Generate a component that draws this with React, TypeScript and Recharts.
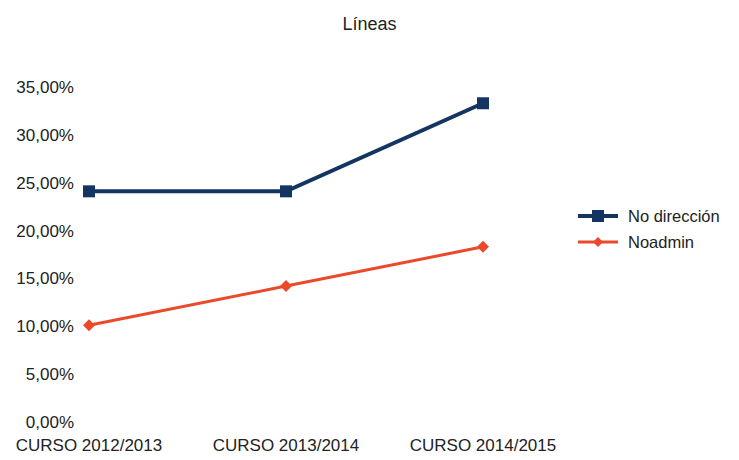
import React from 'react';
import { LineChart, Line, XAxis, YAxis, Legend } from 'recharts';

const CURSOS = ['CURSO 2012/2013', 'CURSO 2013/2014', 'CURSO 2014/2015'];
const NO_DIRECCION = [24.1, 24.1, 33.3];
const NOADMIN = [10.1, 14.2, 18.3];
const Y_TICKS = [0, 5, 10, 15, 20, 25, 30, 35];

const BLUE = '#143462';
const RED = '#ea4a2a';
const FONT = '"Liberation Sans", Arial, sans-serif';

const data = CURSOS.map((curso, i) => ({
  curso,
  noDireccion: NO_DIRECCION[i],
  noadmin: NOADMIN[i],
}));

const fmt = (v: number) => v.toFixed(2).replace('.', ',') + '%';

const SquareDot = (props: any) => {
  const { cx, cy, index } = props;
  if (cx == null || cy == null) return null;
  return <rect key={`sq-${index}`} x={cx - 6} y={cy - 6} width={12} height={12} fill={BLUE} />;
};

const DiamondDot = (props: any) => {
  const { cx, cy, index } = props;
  if (cx == null || cy == null) return null;
  return (
    <polygon
      key={`dm-${index}`}
      points={`${cx},${cy - 6} ${cx + 6},${cy} ${cx},${cy + 6} ${cx - 6},${cy}`}
      fill={RED}
    />
  );
};

const LegendContent = () => {
  const items = [
    { name: 'No dirección', color: BLUE, shape: 'square', w: 4 },
    { name: 'Noadmin', color: RED, shape: 'diamond', w: 3 },
  ];
  return (
    <div style={{ fontFamily: FONT, fontSize: 16.5, color: '#222' }}>
      {items.map((it) => (
        <div key={it.name} style={{ display: 'flex', alignItems: 'center', height: 26 }}>
          <svg width={44} height={14} style={{ marginRight: 6 }}>
            <line x1={0} y1={7} x2={40} y2={7} stroke={it.color} strokeWidth={it.w} />
            {it.shape === 'square' ? (
              <rect x={14} y={1} width={12} height={12} fill={it.color} />
            ) : (
              <polygon points="20,2 25,7 20,12 15,7" fill={it.color} />
            )}
          </svg>
          <span>{it.name}</span>
        </div>
      ))}
    </div>
  );
};

export default function App() {
  return (
    <div
      style={{
        position: 'absolute',
        left: 0,
        top: 0,
        width: 739,
        height: 460,
        background: '#fff',
        fontFamily: FONT,
      }}
    >
      <div
        style={{
          position: 'absolute',
          top: 14,
          left: 0,
          width: 739,
          textAlign: 'center',
          fontSize: 18,
          color: '#222',
        }}
      >
        Líneas
      </div>
      <LineChart
        width={739}
        height={460}
        data={data}
        margin={{ top: 87, right: 180, bottom: 8, left: 0 }}
      >
        <XAxis
          dataKey="curso"
          axisLine={false}
          tickLine={false}
          tickSize={0}
          tickMargin={17}
          height={30}
          padding={{ left: 11, right: 76 }}
          interval={0}
          tick={{ fontSize: 17, fill: '#222', fontFamily: FONT }}
        />
        <YAxis
          domain={[0, 35]}
          ticks={Y_TICKS}
          axisLine={false}
          tickLine={false}
          tickSize={0}
          tickMargin={4}
          width={78}
          tickFormatter={fmt}
          tick={{ fontSize: 17, fill: '#222', fontFamily: FONT }}
        />
        <Legend
          layout="vertical"
          align="center"
          verticalAlign="middle"
          content={<LegendContent />}
          wrapperStyle={{ left: 578, top: 203, width: 160 }}
        />
        <Line
          dataKey="noDireccion"
          name="No dirección"
          stroke={BLUE}
          strokeWidth={4}
          dot={<SquareDot />}
          activeDot={false}
          isAnimationActive={false}
        />
        <Line
          dataKey="noadmin"
          name="Noadmin"
          stroke={RED}
          strokeWidth={3}
          dot={<DiamondDot />}
          activeDot={false}
          isAnimationActive={false}
        />
      </LineChart>
    </div>
  );
}
